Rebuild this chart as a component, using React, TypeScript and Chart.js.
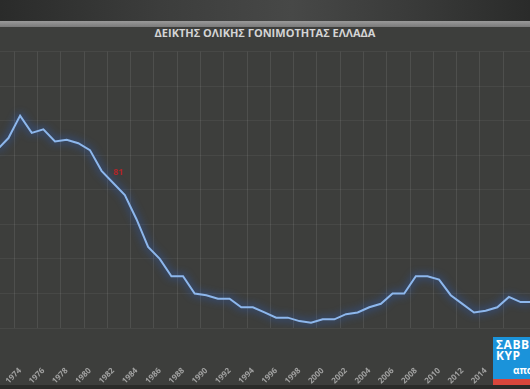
import React, { useEffect, useRef } from "react";
import { Chart, registerables } from "chart.js";

Chart.register(...registerables);

const TITLE = "ΔΕΙΚΤΗΣ ΟΛΙΚΗΣ ΓΟΝΙΜΟΤΗΤΑΣ ΕΛΛΑΔΑ";

const years = [
  1972, 1973, 1974, 1975, 1976, 1977, 1978, 1979, 1980, 1981,
  1982, 1983, 1984, 1985, 1986, 1987, 1988, 1989, 1990, 1991,
  1992, 1993, 1994, 1995, 1996, 1997, 1998, 1999, 2000, 2001,
  2002, 2003, 2004, 2005, 2006, 2007, 2008, 2009, 2010, 2011,
  2012, 2013, 2014, 2015, 2016, 2017, 2018,
];

const fertility = [
  2.23, 2.30, 2.43, 2.33, 2.35, 2.28, 2.29, 2.27, 2.23, 2.11,
  2.04, 1.97, 1.83, 1.67, 1.60, 1.50, 1.50, 1.40, 1.39, 1.37,
  1.37, 1.32, 1.32, 1.29, 1.26, 1.26, 1.24, 1.23, 1.25, 1.25,
  1.28, 1.29, 1.32, 1.34, 1.40, 1.40, 1.50, 1.50, 1.48, 1.39,
  1.34, 1.29, 1.30, 1.32, 1.38, 1.35, 1.35,
];

const tickYears = [
  1974, 1976, 1978, 1980, 1982, 1984, 1986, 1988, 1990, 1992,
  1994, 1996, 1998, 2000, 2002, 2004, 2006, 2008, 2010, 2012,
  2014, 2016,
];

const yMin = 1.2;
const yMax = 2.8;
const yStep = 0.2;

const noteYears = [1981];
const noteTexts = ["81"];

export default function App() {
  const ref = useRef<HTMLCanvasElement>(null);

  useEffect(() => {
    if (!ref.current) return;

    const glow = {
      id: "glow",
      beforeDatasetDraw(chart: any) {
        const ctx = chart.ctx;
        ctx.save();
        ctx.shadowColor = "rgba(40,105,230,1)";
        ctx.shadowBlur = 8;
      },
      afterDatasetDraw(chart: any) {
        chart.ctx.restore();
      },
    };

    const notes = {
      id: "notes",
      afterDatasetsDraw(chart: any) {
        const ctx = chart.ctx;
        const meta = chart.getDatasetMeta(0);
        ctx.save();
        ctx.fillStyle = "#b3262b";
        ctx.font = 'bold 9px "Open Sans"';
        ctx.textAlign = "center";
        ctx.textBaseline = "middle";
        noteYears.forEach((yr, k) => {
          const i = years.indexOf(yr);
          const pt = meta.data[i];
          if (pt) ctx.fillText(noteTexts[k], pt.x + 17, pt.y + 2);
        });
        ctx.restore();
      },
    };

    const chart = new Chart(ref.current, {
      type: "line",
      data: {
        labels: years.map(String),
        datasets: [
          {
            data: fertility,
            borderColor: "#8db7ec",
            borderWidth: 2,
            pointRadius: 0,
            tension: 0,
            fill: false,
          },
        ],
      },
      options: {
        animation: false,
        responsive: false,
        maintainAspectRatio: false,
        layout: { padding: { top: 11.7, left: 0, right: 0, bottom: 0 } },
        plugins: {
          legend: { display: false },
          tooltip: { enabled: false },
          title: { display: false },
        },
        scales: {
          x: {
            type: "category",
            offset: true,
            border: { display: false },
            grid: {
              offset: true,
              drawTicks: true,
              tickLength: 38,
              tickColor: "rgba(0,0,0,0)",
              color: (c: any) =>
                tickYears.includes(years[c.index])
                  ? "rgba(255,255,255,0.09)"
                  : "rgba(0,0,0,0)",
            },
            ticks: {
              autoSkip: false,
              minRotation: 45,
              maxRotation: 45,
              padding: 0,
              color: "rgba(200,200,200,0.72)",
              font: { family: '"Open Sans"', size: 8, weight: "bold" },
              callback: (_v: any, i: number) =>
                tickYears.includes(years[i]) ? String(years[i]) : "",
            },
            afterFit: (s: any) => {
              s.height = 61;
            },
          },
          y: {
            min: yMin,
            max: yMax,
            border: { display: false },
            grid: { color: "rgba(255,255,255,0.055)", drawTicks: false },
            ticks: { display: false, stepSize: yStep },
            afterFit: (s: any) => {
              s.width = 0;
            },
          },
        },
      } as any,
      plugins: [glow, notes],
    });
    return () => chart.destroy();
  }, []);

  return (
    <div
      style={{
        position: "fixed",
        left: 0,
        top: 0,
        width: 530,
        height: 389,
        overflow: "hidden",
        background: "#3d3e3c",
      }}
    >
      <div
        style={{
          position: "absolute",
          left: 0,
          top: 0,
          width: 530,
          height: 21,
          background:
            "linear-gradient(90deg, #2a2b2a 0%, #3c3d3c 30%, #474847 55%, #383938 80%, #2a2b2a 100%)",
        }}
      />
      <div
        style={{
          position: "absolute",
          left: 0,
          top: 21,
          width: 530,
          height: 6,
          background: "linear-gradient(180deg, #999999, #7a7a7a)",
        }}
      />
      <div
        style={{
          position: "absolute",
          left: 0,
          top: 26,
          width: 530,
          textAlign: "center",
          color: "#d4d4d4",
          font: 'bold 11px "Open Sans"',
          lineHeight: "14px",
          whiteSpace: "nowrap",
        }}
      >
        {TITLE}
      </div>
      <canvas
        ref={ref}
        width={548}
        height={349}
        style={{ position: "absolute", left: -9, top: 40, width: 548, height: 349 }}
      />
      <div
        style={{
          position: "absolute",
          left: 0,
          top: 385,
          width: 530,
          height: 4,
          background: "#2a2b29",
        }}
      />
      <div
        style={{
          position: "absolute",
          left: 493,
          top: 337,
          width: 40,
          height: 42,
          background: "#1b93da",
          overflow: "hidden",
        }}
      >
        <div
          style={{
            position: "absolute",
            left: 3,
            top: 2,
            color: "#ffffff",
            font: 'bold 12px "Open Sans"',
            lineHeight: "11px",
            letterSpacing: "0.5px",
            whiteSpace: "nowrap",
          }}
        >
          ΣΑΒΒ
          <br />
          ΚΥΡ
        </div>
        <div
          style={{
            position: "absolute",
            left: 20,
            top: 28,
            color: "#ffffff",
            font: 'bold 10px "Open Sans"',
            lineHeight: "10px",
            whiteSpace: "nowrap",
          }}
        >
          απο
        </div>
      </div>
      <div
        style={{
          position: "absolute",
          left: 493,
          top: 379,
          width: 40,
          height: 6,
          background: "#d8463c",
        }}
      />
    </div>
  );
}
